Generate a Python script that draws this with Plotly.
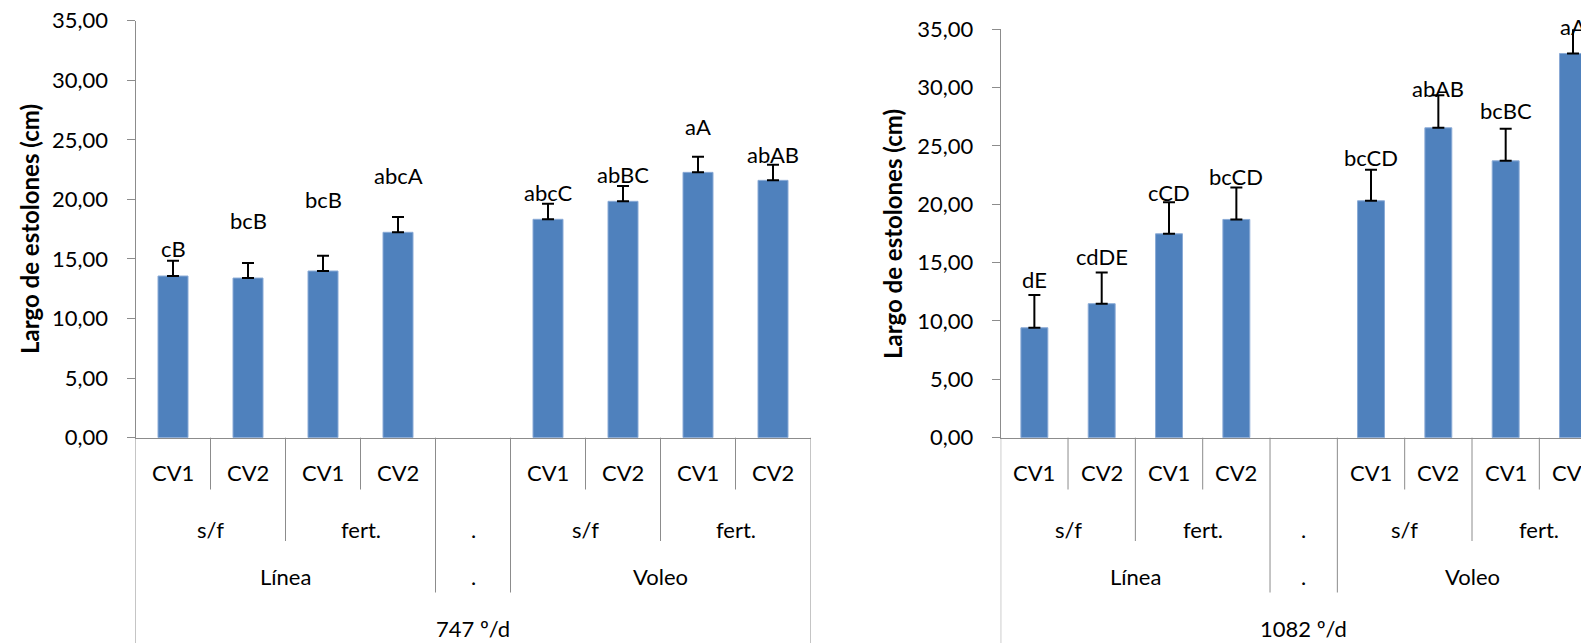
import plotly.graph_objects as go

# ---------------- data ----------------
cultivar = ["CV1", "CV2", "CV1", "CV2", "", "CV1", "CV2", "CV1", "CV2"]
fert_groups = [("s/f", 0, 1), ("fert.", 2, 3), (".", 4, 4), ("s/f", 5, 6), ("fert.", 7, 8)]
method_groups = [("Línea", 0, 3), (".", 4, 4), ("Voleo", 5, 8)]
temps = ["747 º/d", "1082 º/d"]

largo_747 = [13.57, 13.40, 13.99, 17.24, None, 18.33, 19.84, 22.27, 21.60]
err_747 = [1.29, 1.26, 1.28, 1.28, None, 1.31, 1.28, 1.31, 1.31]
letras_747 = ["cB", "bcB", "bcB", "abcA", "", "abcC", "abBC", "aA", "abAB"]
label_y_747 = [15.84, 18.19, 20.0, 22.0, None, 20.56, 22.13, 26.16, 23.81]

largo_1082 = [9.42, 11.48, 17.47, 18.70, None, 20.30, 26.55, 23.72, 32.92]
err_1082 = [2.80, 2.68, 2.71, 2.74, None, 2.65, 2.80, 2.74, 2.75]
letras_1082 = ["dE", "cdDE", "cCD", "bcCD", "", "bcCD", "abAB", "bcBC", "aA"]
label_y_1082 = [13.57, 15.5, 21.0, 22.35, None, 24.0, 29.92, 28.06, 35.26]

y_title = "Largo de estolones (cm)"
Y_MAX = 35

# ---------------- layout helpers ----------------
W, H = 1589, 643
OFF = 8  # page body margin offset
def fx(px):
    return (px - OFF) / W
def fy(py):
    return 1 - (py - OFF) / H

FONT = "Lato, 'Open Sans', sans-serif"
FS = 22
BAR = "#4F81BD"
GRID = "#8C8C8C"
slots = list(range(len(cultivar)))

fig = go.Figure()

panels = [
    dict(xa="x", ya="y", vals=largo_747, err=err_747, let=letras_747, ly=label_y_747,
         temp=temps[0], x0=135.5, slot=75.0, ytop=20.7, title_x=30, title_y=229),
    dict(xa="x2", ya="y2", vals=largo_1082, err=err_1082, let=letras_1082, ly=label_y_1082,
         temp=temps[1], x0=1000.7, slot=67.33, ytop=29.2, title_x=893, title_y=234),
]

n = len(cultivar)
depth = [0] * (n + 1)
for b in range(n + 1):
    d = 1
    if any(b in (s, e + 1) for _, s, e in fert_groups):
        d = 2
    if any(b in (s, e + 1) for _, s, e in method_groups):
        d = 3
    if b in (0, n):
        d = 4
    depth[b] = d
depth_px = {1: 489.5, 2: 541, 3: 592.5, 4: 660}

def txt(text, xref, x, yref, y, **kw):
    d = dict(text=text, xref=xref, yref=yref, x=x, y=y, showarrow=False,
             xanchor="center", yanchor="middle",
             font=dict(family=FONT, size=FS, color="black"))
    d.update(kw)
    return d

annotations = []
shapes = []
for p in panels:
    x_end = p["x0"] + n * p["slot"]
    if x_end > W:
        x_end = W + OFF
    p["xdom"] = [fx(p["x0"]), fx(x_end)]
    p["xr"] = [-0.5, -0.5 + (x_end - p["x0"]) / p["slot"]]
    p["ydom"] = [fy(437.7), fy(p["ytop"])]

    xs = [s for s, v in zip(slots, p["vals"]) if v is not None]
    ys = [v for v in p["vals"] if v is not None]
    es = [e for e in p["err"] if e is not None]
    fig.add_trace(go.Bar(
        x=xs, y=ys, width=0.4, xaxis=p["xa"], yaxis=p["ya"],
        marker=dict(color=BAR, line=dict(color="#8AAAD6", width=1)),
        error_y=dict(type="data", symmetric=False, array=es, arrayminus=[0] * len(es),
                     color="black", thickness=2, width=6),
        hoverinfo="skip",
    ))
    # letters above bars (y in axis-domain fraction so labels above the top stay visible)
    for s, t, ly in zip(slots, p["let"], p["ly"]):
        if t:
            annotations.append(txt(t, p["xa"], s, p["ya"] + " domain", ly / Y_MAX))
    # y title
    annotations.append(txt("<b>" + y_title + "</b>", "paper", fx(p["title_x"]), "paper",
                           fy(p["title_y"]), textangle=-90,
                           font=dict(family=FONT, size=24, color="black")))
    # category axis labels
    for s, c in zip(slots, cultivar):
        if c:
            annotations.append(txt(c, p["xa"], s, "paper", fy(472)))
    for t, s, e in fert_groups:
        annotations.append(txt(t, p["xa"], (s + e) / 2, "paper", fy(529)))
    for t, s, e in method_groups:
        annotations.append(txt(t, p["xa"], (s + e) / 2, "paper", fy(576)))
    annotations.append(txt(p["temp"], p["xa"], (n - 1) / 2, "paper", fy(628)))
    for b in range(n + 1):
        shapes.append(dict(type="line", xref=p["xa"], yref="paper", x0=b - 0.5, x1=b - 0.5,
                           y0=fy(437.7), y1=fy(depth_px[depth[b]]),
                           line=dict(color=GRID, width=1)))

axis_common = dict(showgrid=False, zeroline=False, showline=True, linecolor=GRID, linewidth=1,
                   automargin=False)
ycommon = dict(axis_common, range=[0, Y_MAX], dtick=5, tick0=0, tickformat=".2f", ticks="outside",
               ticklen=8, tickcolor=GRID, tickfont=dict(family=FONT, size=FS, color="black"),
               ticklabelstandoff=14, ticklabeloverflow="allow")
xcommon = dict(axis_common, showticklabels=False, ticks="")

fig.update_layout(
    width=W, height=H, margin=dict(l=0, r=0, t=0, b=0, pad=0, autoexpand=False),
    paper_bgcolor="white", plot_bgcolor="white", showlegend=False,
    separators=",.",
    xaxis=dict(xcommon, domain=panels[0]["xdom"], range=panels[0]["xr"], anchor="y"),
    yaxis=dict(ycommon, domain=panels[0]["ydom"], anchor="x"),
    xaxis2=dict(xcommon, domain=panels[1]["xdom"], range=panels[1]["xr"], anchor="y2"),
    yaxis2=dict(ycommon, domain=panels[1]["ydom"], anchor="x2"),
    annotations=annotations, shapes=shapes,
)

fig.write_html("out.html")
